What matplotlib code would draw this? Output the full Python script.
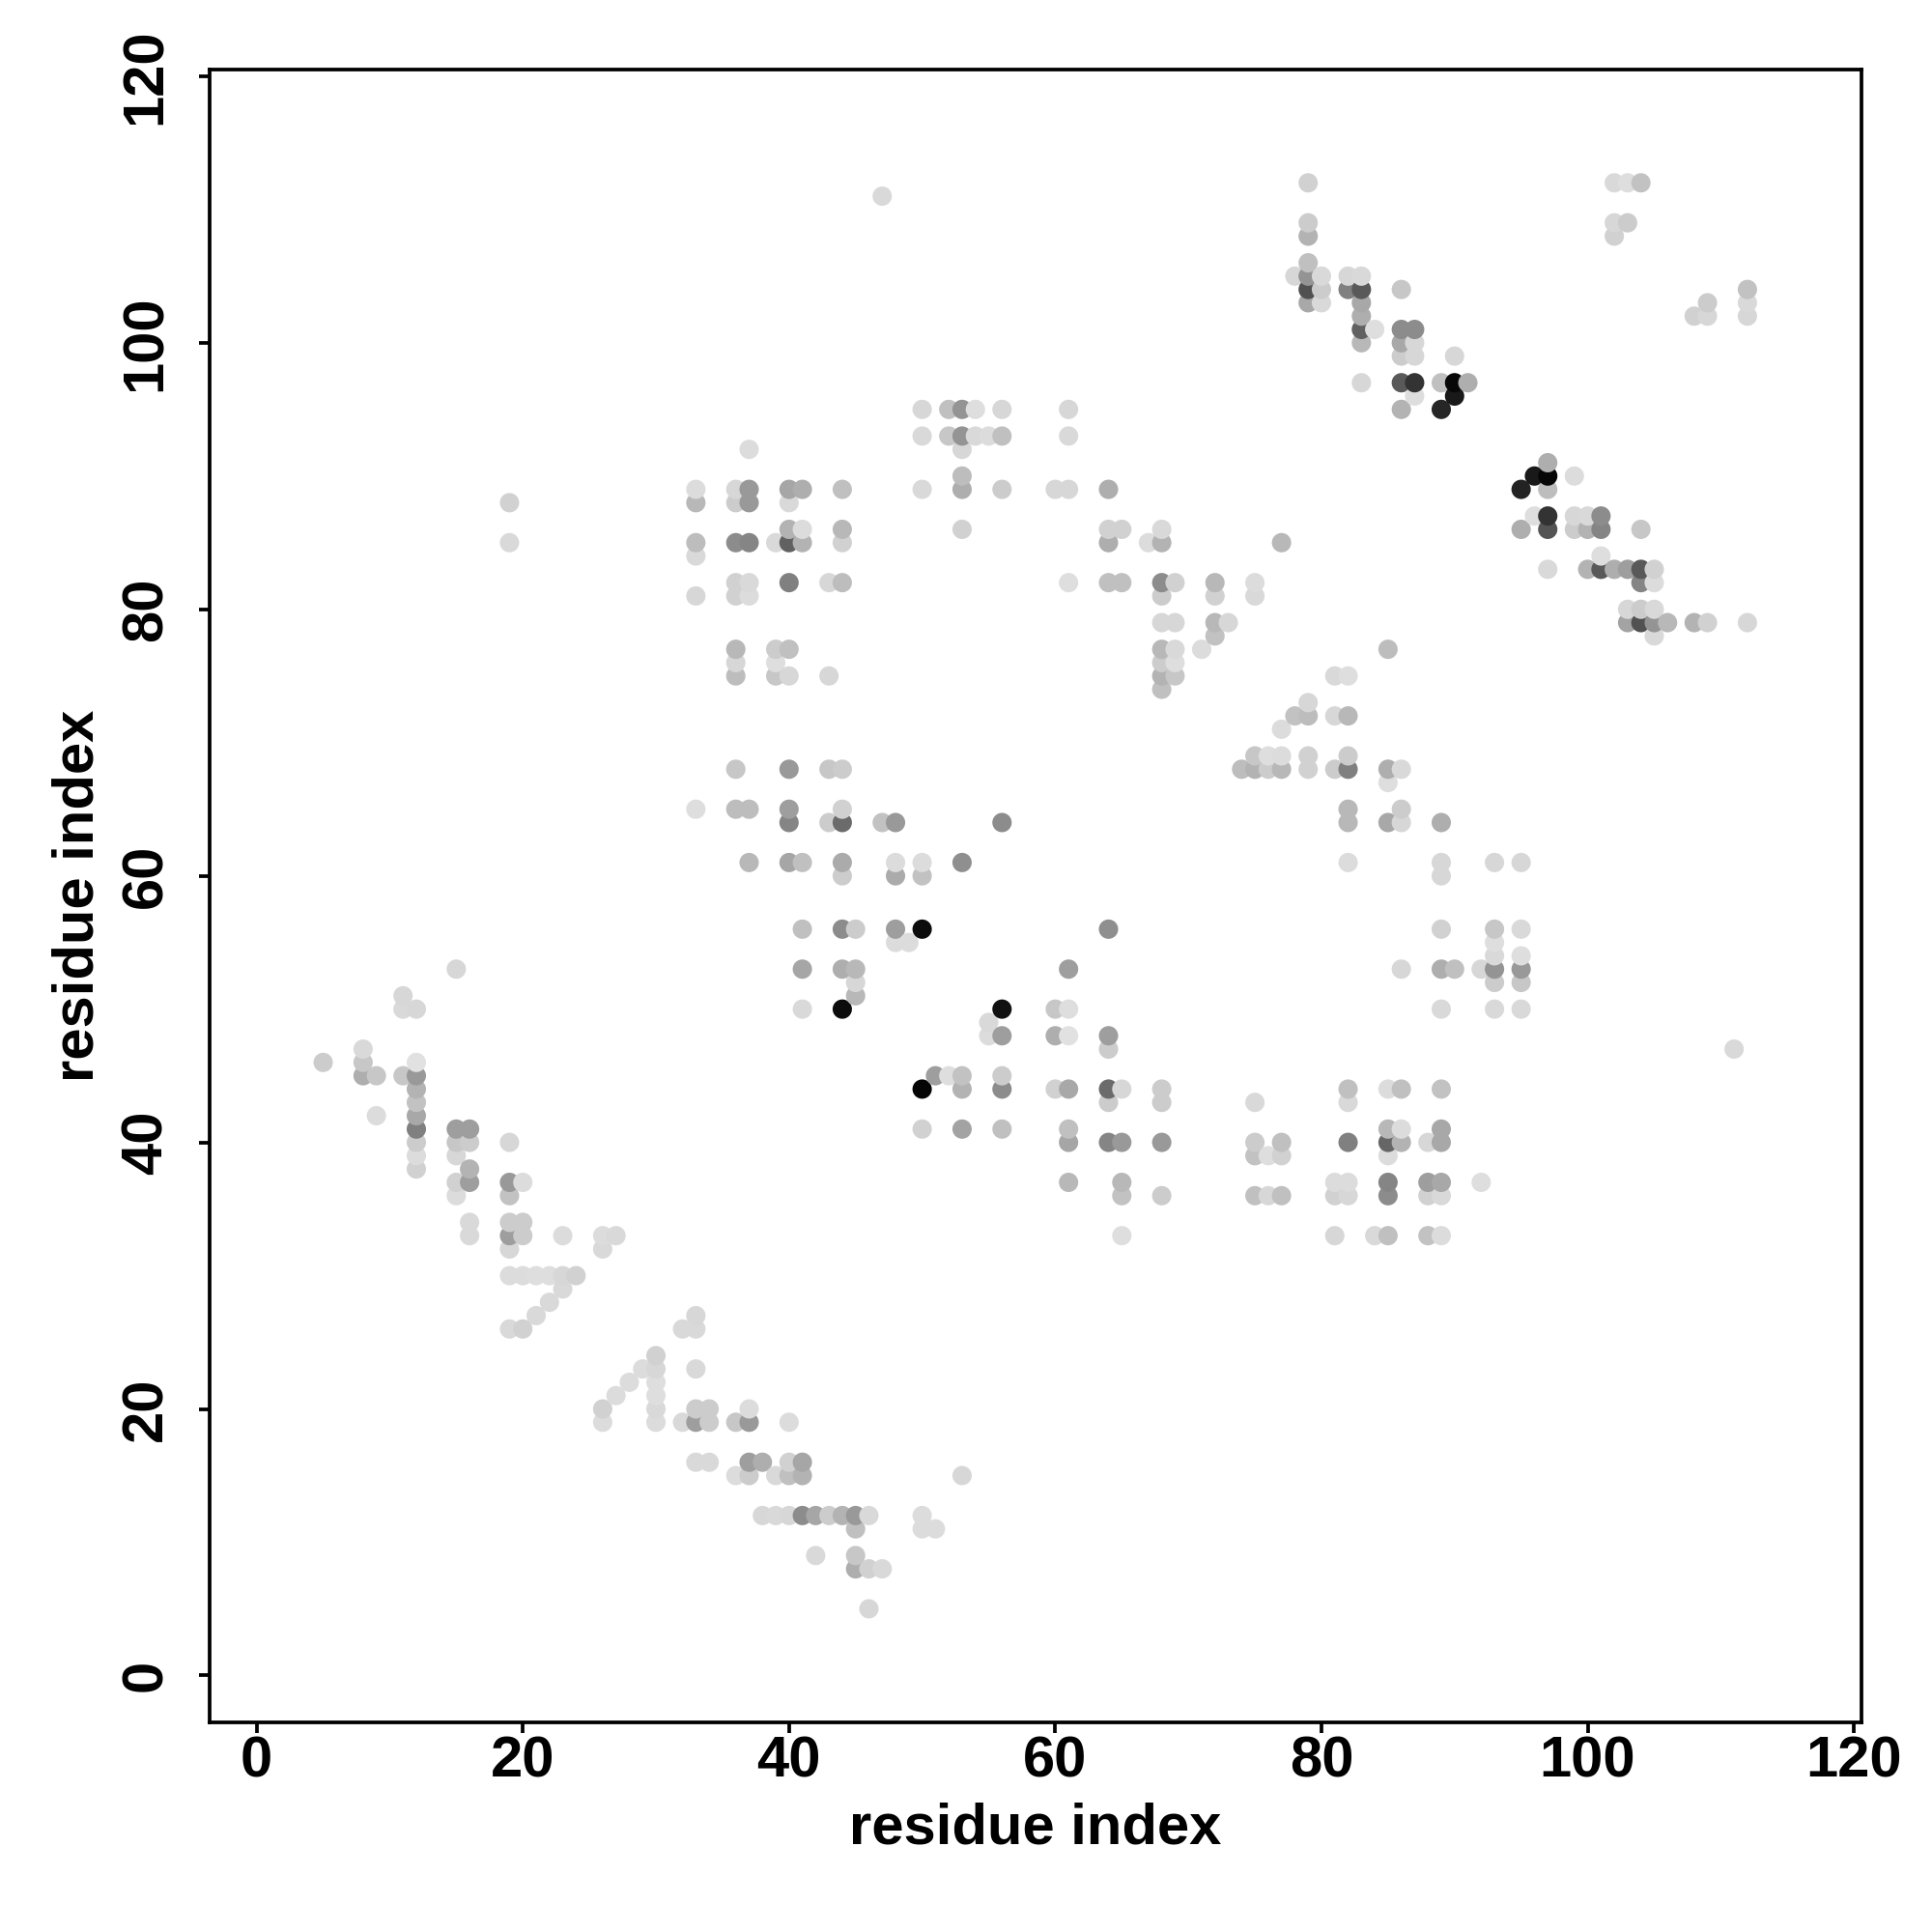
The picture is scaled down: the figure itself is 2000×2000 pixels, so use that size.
import matplotlib
matplotlib.use("Agg")
import matplotlib.pyplot as plt
import numpy as np

plt.rcParams["font.family"] = ["Liberation Sans", "DejaVu Sans"]

TICKS = [0, 20, 40, 60, 80, 100, 120]

# residue pairs grouped by y row, shade is the grey level of each dot (0 black, 1 white)
res_x = [46, 42, 45, 45, 46, 47, 45, 50, 51]
res_y = [5, 9, 9, 8, 8, 8, 11, 11, 11]
shade = [0.84, 0.85, 0.78, 0.68, 0.82, 0.85, 0.75, 0.86, 0.86]

res_x += [38, 39, 40, 41, 42, 43, 44, 45, 46, 50]
res_y += [12, 12, 12, 12, 12, 12, 12, 12, 12, 12]
shade += [0.84, 0.85, 0.84, 0.55, 0.65, 0.80, 0.70, 0.60, 0.85, 0.86]

res_x += [53, 36, 37, 39, 40, 41, 33, 34, 37, 38, 40, 41]
res_y += [15, 15, 15, 15, 15, 15, 16, 16, 16, 16, 16, 16]
shade += [0.84, 0.86, 0.80, 0.85, 0.75, 0.70, 0.85, 0.85, 0.62, 0.68, 0.82, 0.65]

res_x += [26, 30, 32, 33, 34, 36, 37, 40, 26, 30, 33, 34, 37]
res_y += [19, 19, 19, 19, 19, 19, 19, 19, 20, 20, 20, 20, 20]
shade += [0.86, 0.86, 0.85, 0.62, 0.80, 0.78, 0.60, 0.86, 0.82, 0.85, 0.80, 0.80, 0.86]

res_x += [27, 30, 28, 30, 29, 30, 33, 30, 19, 20, 32, 33, 21, 33, 22, 23]
res_y += [21, 21, 22, 22, 23, 23, 23, 24, 26, 26, 26, 26, 27, 27, 28, 29]
shade += [0.86, 0.87, 0.86, 0.87, 0.86, 0.84, 0.85, 0.82, 0.85, 0.82, 0.85, 0.85, 0.85, 0.84, 0.85, 0.85]

res_x += [19, 20, 21, 22, 23, 24, 5]
res_y += [30, 30, 30, 30, 30, 30, 46]
shade += [0.86, 0.86, 0.87, 0.87, 0.84, 0.82, 0.80]

# left band, y 32 to 51
res_x += [8, 8, 9, 9, 11, 11, 12, 11, 12, 12, 12, 12, 12, 12, 12, 12, 12]
res_y += [47, 45, 45, 42, 51, 50, 50, 45, 46, 45, 44, 43, 42, 41, 40, 39, 38]
shade += [0.85, 0.68, 0.78, 0.86, 0.84, 0.85, 0.84, 0.78, 0.88, 0.60, 0.70, 0.76, 0.66, 0.50, 0.80, 0.86, 0.82]

res_x += [15, 15, 15, 15, 15, 16, 16, 16, 16, 16, 16, 19, 19, 19, 19, 19, 19, 20, 20, 20, 23, 26, 26, 27, 8]
res_y += [41, 40, 39, 37, 36, 41, 40, 38, 37, 34, 33, 40, 37, 36, 34, 33, 32, 37, 34, 33, 33, 33, 32, 33, 46]
shade += [0.62, 0.78, 0.84, 0.82, 0.86, 0.62, 0.80, 0.70, 0.62, 0.85, 0.85, 0.84, 0.60, 0.76, 0.80, 0.62, 0.84, 0.86, 0.80, 0.80, 0.86, 0.86, 0.85, 0.85, 0.78]

# middle band, y 33 to 56
res_x += [65, 81, 84, 85, 88, 89, 65, 68, 75, 76, 77, 81, 82, 85, 88, 89, 61, 65, 81, 82, 85, 88, 89, 92]
res_y += [33, 33, 33, 33, 33, 33, 36, 36, 36, 36, 36, 36, 36, 36, 36, 36, 37, 37, 37, 37, 37, 37, 37, 37]
shade += [0.87, 0.84, 0.85, 0.75, 0.76, 0.86, 0.76, 0.80, 0.75, 0.84, 0.75, 0.82, 0.84, 0.55, 0.82, 0.85, 0.72, 0.72, 0.86, 0.86, 0.52, 0.62, 0.66, 0.87]

res_x += [75, 76, 77, 85, 61, 64, 65, 68, 75, 77, 82, 85, 86, 88, 89, 50, 53, 56, 61, 85, 86, 89]
res_y += [39, 39, 39, 39, 40, 40, 40, 40, 40, 40, 40, 40, 40, 40, 40, 41, 41, 41, 41, 41, 41, 41]
shade += [0.76, 0.87, 0.82, 0.86, 0.65, 0.52, 0.60, 0.60, 0.80, 0.75, 0.50, 0.40, 0.70, 0.84, 0.66, 0.82, 0.64, 0.75, 0.75, 0.72, 0.86, 0.66]

res_x += [64, 68, 75, 82, 50, 53, 56, 60, 61, 64, 65, 68, 82, 85, 86, 89, 51, 52, 53, 56, 64]
res_y += [43, 43, 43, 43, 44, 44, 44, 44, 44, 44, 44, 44, 44, 44, 44, 44, 45, 45, 45, 45, 47]
shade += [0.80, 0.80, 0.85, 0.85, 0.02, 0.70, 0.55, 0.82, 0.66, 0.42, 0.84, 0.80, 0.75, 0.86, 0.75, 0.76, 0.62, 0.87, 0.76, 0.80, 0.80]

res_x += [111, 55, 56, 60, 61, 64, 55, 44, 41, 56, 60, 61, 89, 93, 95, 45, 93, 95]
res_y += [47, 48, 48, 48, 48, 48, 49, 50, 50, 50, 50, 50, 50, 50, 50, 51, 52, 52]
shade += [0.85, 0.86, 0.62, 0.68, 0.88, 0.62, 0.85, 0.05, 0.85, 0.07, 0.78, 0.87, 0.85, 0.85, 0.85, 0.72, 0.80, 0.78]

res_x += [45, 41, 44, 45, 61, 86, 89, 90, 92, 93, 95, 93, 95, 93, 48, 49, 41, 44, 45, 48, 50, 64, 89, 93, 95, 15]
res_y += [52, 53, 53, 53, 53, 53, 53, 53, 53, 53, 53, 54, 54, 55, 55, 55, 56, 56, 56, 56, 56, 56, 56, 56, 56, 53]
shade += [0.84, 0.65, 0.68, 0.72, 0.62, 0.84, 0.68, 0.75, 0.84, 0.58, 0.60, 0.85, 0.87, 0.87, 0.86, 0.86, 0.75, 0.55, 0.80, 0.62, 0.05, 0.56, 0.82, 0.78, 0.85, 0.84]

# y 60 to 69
res_x += [44, 48, 50, 89, 37, 40, 41, 44, 48, 50, 53, 82, 89, 93, 95, 40, 43, 44, 47, 48, 56, 82, 85, 86, 89]
res_y += [60, 60, 60, 60, 61, 61, 61, 61, 61, 61, 61, 61, 61, 61, 61, 64, 64, 64, 64, 64, 64, 64, 64, 64, 64]
shade += [0.80, 0.67, 0.76, 0.84, 0.72, 0.65, 0.75, 0.67, 0.86, 0.86, 0.56, 0.86, 0.84, 0.84, 0.84, 0.52, 0.80, 0.42, 0.76, 0.60, 0.55, 0.72, 0.66, 0.84, 0.68]

res_x += [33, 36, 37, 40, 44, 82, 86, 85, 36, 40, 43, 44, 74, 75, 76, 77, 79, 81, 82, 85, 86, 75, 76, 77, 79, 82]
res_y += [65, 65, 65, 65, 65, 65, 65, 67, 68, 68, 68, 68, 68, 68, 68, 68, 68, 68, 68, 68, 68, 69, 69, 69, 69, 69]
shade += [0.87, 0.74, 0.74, 0.62, 0.82, 0.72, 0.80, 0.87, 0.78, 0.60, 0.78, 0.80, 0.74, 0.70, 0.80, 0.72, 0.82, 0.80, 0.50, 0.68, 0.85, 0.78, 0.87, 0.86, 0.82, 0.80]

# y 71 to 82
res_x += [77, 78, 79, 81, 82, 79, 81, 82, 68, 36, 39, 40, 43, 68, 69, 36, 39, 68, 69, 36, 39, 40, 68, 69, 71, 85, 72, 105]
res_y += [71, 72, 72, 72, 72, 73, 75, 75, 74, 75, 75, 75, 75, 75, 75, 76, 76, 76, 76, 77, 77, 77, 77, 77, 77, 77, 78, 78]
shade += [0.86, 0.76, 0.74, 0.84, 0.72, 0.84, 0.85, 0.87, 0.75, 0.74, 0.78, 0.84, 0.84, 0.70, 0.78, 0.84, 0.87, 0.80, 0.87, 0.72, 0.80, 0.75, 0.72, 0.85, 0.86, 0.74, 0.76, 0.85]

res_x += [68, 69, 72, 73, 103, 104, 105, 106, 108, 109, 112, 103, 104, 105, 33, 36, 37, 68, 72, 75]
res_y += [79, 79, 79, 79, 79, 79, 79, 79, 79, 79, 79, 80, 80, 80, 81, 81, 81, 81, 81, 81]
shade += [0.84, 0.84, 0.72, 0.84, 0.64, 0.32, 0.58, 0.72, 0.70, 0.82, 0.84, 0.84, 0.80, 0.85, 0.84, 0.82, 0.86, 0.80, 0.82, 0.85]

res_x += [36, 37, 40, 43, 44, 61, 64, 65, 68, 69, 72, 75, 104, 105]
res_y += [82, 82, 82, 82, 82, 82, 82, 82, 82, 82, 82, 82, 82, 82]
shade += [0.82, 0.85, 0.50, 0.84, 0.74, 0.87, 0.75, 0.75, 0.55, 0.82, 0.72, 0.86, 0.52, 0.86]

# y 83 to 92
res_x += [97, 100, 101, 102, 103, 104, 105, 33, 101, 19, 33, 36, 37, 39, 40, 41, 44, 64, 67, 68, 77]
res_y += [83, 83, 83, 83, 83, 83, 83, 84, 84, 85, 85, 85, 85, 85, 85, 85, 85, 85, 85, 85, 85]
shade += [0.85, 0.70, 0.35, 0.68, 0.62, 0.35, 0.82, 0.85, 0.87, 0.85, 0.74, 0.55, 0.52, 0.85, 0.38, 0.70, 0.82, 0.68, 0.86, 0.70, 0.72]

res_x += [40, 41, 44, 53, 64, 65, 68, 95, 97, 99, 100, 101, 104, 96, 97, 99, 100, 101, 19, 33, 36, 37, 40]
res_y += [86, 86, 86, 86, 86, 86, 86, 86, 86, 86, 86, 86, 86, 87, 87, 87, 87, 87, 88, 88, 88, 88, 88]
shade += [0.70, 0.86, 0.72, 0.82, 0.82, 0.82, 0.85, 0.68, 0.33, 0.80, 0.70, 0.52, 0.78, 0.87, 0.20, 0.84, 0.85, 0.55, 0.82, 0.72, 0.80, 0.60, 0.85]

res_x += [33, 36, 37, 40, 41, 44, 50, 53, 56, 60, 61, 64, 95, 97, 53, 96, 97, 99, 97, 37, 53]
res_y += [89, 89, 89, 89, 89, 89, 89, 89, 89, 89, 89, 89, 89, 89, 90, 90, 90, 90, 91, 92, 92]
shade += [0.86, 0.84, 0.60, 0.65, 0.68, 0.75, 0.85, 0.68, 0.80, 0.84, 0.84, 0.68, 0.14, 0.74, 0.74, 0.10, 0.03, 0.86, 0.68, 0.86, 0.84]

# y 93 to 112
res_x += [50, 52, 53, 54, 55, 56, 61, 50, 52, 53, 54, 56, 61, 86, 89, 87, 90]
res_y += [93, 93, 93, 93, 93, 93, 93, 95, 95, 95, 95, 95, 95, 95, 95, 96, 96]
shade += [0.85, 0.78, 0.58, 0.85, 0.86, 0.75, 0.85, 0.84, 0.75, 0.58, 0.87, 0.84, 0.84, 0.70, 0.15, 0.87, 0.10]

res_x += [83, 86, 87, 89, 90, 91, 86, 87, 90, 83, 86, 87, 83, 84, 86, 87, 83, 108, 109, 112]
res_y += [97, 97, 97, 97, 97, 97, 99, 99, 99, 100, 100, 100, 101, 101, 101, 101, 102, 102, 102, 102]
shade += [0.84, 0.35, 0.20, 0.75, 0.03, 0.68, 0.80, 0.84, 0.84, 0.72, 0.66, 0.84, 0.38, 0.87, 0.55, 0.55, 0.68, 0.82, 0.84, 0.84]

res_x += [79, 80, 83, 109, 112, 79, 80, 82, 83, 86, 112, 78, 79, 80, 82, 83, 79, 79, 102, 79, 102, 103, 47, 79, 102, 103, 104]
res_y += [103, 103, 103, 103, 103, 104, 104, 104, 104, 104, 104, 105, 105, 105, 105, 105, 106, 108, 108, 109, 109, 109, 111, 112, 112, 112, 112]
shade += [0.66, 0.85, 0.66, 0.80, 0.85, 0.32, 0.80, 0.50, 0.35, 0.78, 0.76, 0.84, 0.58, 0.85, 0.84, 0.85, 0.75, 0.70, 0.82, 0.80, 0.84, 0.80, 0.85, 0.82, 0.85, 0.87, 0.76]


def main() -> None:
    x = np.array(res_x)
    y = np.array(res_y)
    grey = np.array(shade)
    order = np.lexsort((y, x))

    fig = plt.figure(figsize=(10, 10), dpi=200)
    ax = fig.add_axes([217 / 2000, 1 - 1783 / 2000, 1710 / 2000, 1711 / 2000])
    ax.scatter(x[order], y[order], c=grey[order], cmap="gray", vmin=0, vmax=1, s=52, linewidths=0)

    ax.set_xlim(-3.53, 120.57)
    ax.set_ylim(-3.52, 120.5)
    ax.set_xticks(TICKS)
    ax.set_yticks(TICKS)
    ax.tick_params(axis="x", length=3.8, width=1.35, labelsize=21.5, pad=1.2)
    ax.tick_params(axis="y", length=3.8, width=1.35, labelsize=21.5, pad=9.8)
    for label in ax.get_xticklabels():
        label.set_fontweight("bold")
    for label in ax.get_yticklabels():
        label.set_fontweight("bold")
        label.set_rotation(90)
        label.set_va("center")
    for spine in ax.spines.values():
        spine.set_linewidth(1.35)

    ax.set_xlabel("residue index", fontsize=21.5, fontweight="bold", labelpad=5)
    ax.set_ylabel("residue index", fontsize=21.5, fontweight="bold", labelpad=5.5)

    fig.savefig("out.png", dpi=200)
    plt.close(fig)


if __name__ == "__main__":
    main()
